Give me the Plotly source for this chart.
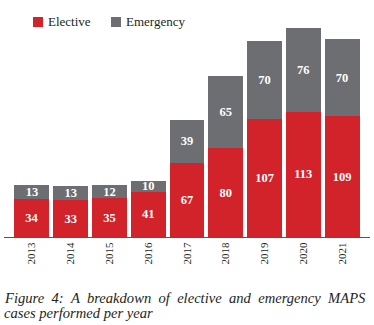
import plotly.graph_objects as go

years = ["2013", "2014", "2015", "2016", "2017", "2018", "2019", "2020", "2021"]
elective = [34, 33, 35, 41, 67, 80, 107, 113, 109]
emergency = [13, 13, 12, 10, 39, 65, 70, 76, 70]
series_names = ["Elective", "Emergency"]
caption_line1 = ["Figure", "4:", "A", "breakdown", "of", "elective", "and", "emergency", "MAPS"]
caption_line2 = "cases performed per year"

RED = "#D2232A"
GRAY = "#6D6E71"
SERIF = "Liberation Serif"
TXT = "#231F20"

W, H = 374, 325
ML, MR, MT, MB = 4, 4, 20, 88
PW, PH = W - ML - MR, H - MT - MB


def px_x(px):
    return (px - ML) / PW


def px_y(py):
    return (H - MB - py) / PH


fig = go.Figure()
for name, vals, col in [(series_names[0], elective, RED), (series_names[1], emergency, GRAY)]:
    fig.add_trace(go.Bar(
        x=years, y=vals, name=name, marker_color=col, marker_line_width=0,
        text=vals, textposition="inside", insidetextanchor="middle",
        constraintext="none", textangle=0,
        textfont=dict(family=SERIF, size=12.5, color="white", weight="bold"),
        showlegend=False, hoverinfo="skip",
    ))

shapes = []
annotations = []
legend_pos = [(33, 43, 47, RED), (111, 121, 125, GRAY)]
for name, (x0, x1, tx, col) in zip(series_names, legend_pos):
    shapes.append(dict(type="rect", xref="paper", yref="paper",
                       x0=px_x(x0), x1=px_x(x1), y0=px_y(27), y1=px_y(17),
                       fillcolor=col, line_width=0))
    annotations.append(dict(text=name, xref="paper", yref="paper",
                            x=px_x(tx), y=px_y(22), xanchor="left", yanchor="middle",
                            showarrow=False, borderpad=0,
                            font=dict(family=SERIF, size=13, color=TXT)))

sep = " \u00a0"
line1 = sep.join(caption_line1)
for txt, cy in [(line1, 298), (caption_line2, 313)]:
    annotations.append(dict(
        text="<i>" + txt + "</i>",
        xref="paper", yref="paper", x=px_x(3), y=px_y(cy), xanchor="left", yanchor="middle",
        align="left", showarrow=False, borderpad=0,
        font=dict(family=SERIF, size=14.6, color=TXT)))

fig.update_layout(
    barmode="stack", bargap=0.1,
    width=W, height=H,
    margin=dict(l=ML, r=MR, t=MT, b=MB, autoexpand=False),
    paper_bgcolor="white", plot_bgcolor="white",
    font=dict(family=SERIF, color=TXT),
    showlegend=False,
    xaxis=dict(type="category", range=[-0.72, 8.72], showline=True, linecolor="#555",
               linewidth=1, ticks="", tickangle=-90, automargin=False, fixedrange=True,
               tickfont=dict(family=SERIF, size=11, color=TXT)),
    yaxis=dict(range=[0, 196], visible=False, showgrid=False, automargin=False, fixedrange=True),
    shapes=shapes,
    annotations=annotations,
)

fig.write_html("out.html", config={"displayModeBar": False},
               post_script="document.body.style.margin='0';document.body.style.overflow='hidden';")
